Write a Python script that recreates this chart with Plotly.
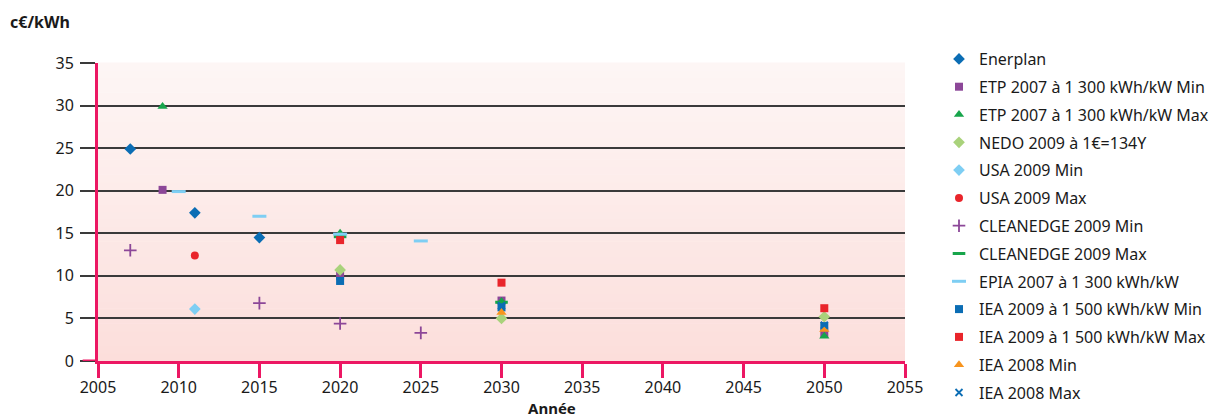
import plotly.graph_objects as go

# ---- data ----
enerplan_x = [2007, 2011, 2015]
enerplan_y = [24.9, 17.4, 14.5]
etp_min_x = [2009, 2020, 2030, 2050]
etp_min_y = [20.1, 10.0, 7.1, 3.2]
etp_max_x = [2009, 2020, 2030, 2050]
etp_max_y = [29.9, 15.0, 7.0, 2.9]
nedo_x = [2020, 2030, 2050]
nedo_y = [10.7, 5.0, 5.2]
usa_min_x = [2011]
usa_min_y = [6.1]
usa_max_x = [2011]
usa_max_y = [12.4]
clean_min_x = [2007, 2015, 2020, 2025]
clean_min_y = [13.0, 6.8, 4.4, 3.3]
clean_max_x = [2020, 2030]
clean_max_y = [14.6, 6.9]
epia_x = [2010, 2015, 2020, 2025]
epia_y = [19.9, 17.0, 14.9, 14.1]
iea09_min_x = [2020, 2030, 2050]
iea09_min_y = [9.4, 6.3, 4.1]
iea09_max_x = [2020, 2030, 2050]
iea09_max_y = [14.2, 9.2, 6.2]
iea08_min_x = [2030, 2050]
iea08_min_y = [5.7, 3.7]
iea08_max_x = [2030, 2050]
iea08_max_y = [6.5, 4.2]

series = [
    ("Enerplan", enerplan_x, enerplan_y, "diamond", "#0b6db4", 9),
    ("ETP 2007 à 1 300 kWh/kW Min", etp_min_x, etp_min_y, "square", "#8c4798", 8),
    ("ETP 2007 à 1 300 kWh/kW Max", etp_max_x, etp_max_y, "triangle-up", "#17a54b", 9),
    ("NEDO 2009 à 1€=134Y", nedo_x, nedo_y, "diamond", "#a9d27b", 9),
    ("USA 2009 Min", usa_min_x, usa_min_y, "diamond", "#7ecef3", 9),
    ("USA 2009 Max", usa_max_x, usa_max_y, "circle", "#e9252b", 8),
    ("CLEANEDGE 2009 Min", clean_min_x, clean_min_y, "cross-thin", "#8c4798", 9),
    ("CLEANEDGE 2009 Max", clean_max_x, clean_max_y, "line-ew", "#17a54b", 9),
    ("EPIA 2007 à 1 300 kWh/kW", epia_x, epia_y, "line-ew", "#7ecef3", 10),
    ("IEA 2009 à 1 500 kWh/kW Min", iea09_min_x, iea09_min_y, "square", "#0b6db4", 8),
    ("IEA 2009 à 1 500 kWh/kW Max", iea09_max_x, iea09_max_y, "square", "#e9252b", 8),
    ("IEA 2008 Min", iea08_min_x, iea08_min_y, "triangle-up", "#f7941e", 9),
    ("IEA 2008 Max", iea08_max_x, iea08_max_y, "x-thin", "#0b6db4", 7),
]

fig = go.Figure()
for i, (name, xs, ys, sym, col, size) in enumerate(series):
    if sym in ("cross-thin", "x-thin"):
        marker = dict(symbol=sym, size=size, line=dict(color=col, width=1.8))
    elif sym == "line-ew":
        marker = dict(symbol=sym, size=size, line=dict(color=col, width=3))
    else:
        marker = dict(symbol=sym, size=size, color=col, line=dict(width=0))
    fig.add_trace(go.Scatter(x=xs, y=ys, mode="markers", name=name, marker=marker,
                             legendgroup=f"g{i}"))

# gradient background (plot area) with thin strips
n = 40
top = (253, 246, 245)
bot = (252, 222, 219)
shapes = []
for k in range(n):
    t = (k + 0.5) / n
    c = tuple(round(bot[j] + (top[j] - bot[j]) * t) for j in range(3))
    shapes.append(dict(type="rect", xref="x domain", yref="y domain",
                       x0=0, x1=1, y0=k / n, y1=(k + 1) / n + 0.002,
                       fillcolor=f"rgb{c}", line=dict(width=0), layer="below"))
# pink extension of the baseline to the left (over the 0 tick)
shapes.append(dict(type="line", xref="x domain", yref="y", x0=-0.019, x1=0,
                   y0=0, y1=0, line=dict(color="#ec1763", width=3), layer="above"))

PINK = "#ec1763"
W, H = 1211, 416
fig.update_layout(
    width=W, height=H,
    margin=dict(l=98, r=306, t=63, b=55, autoexpand=False),
    paper_bgcolor="white",
    plot_bgcolor="rgba(0,0,0,0)",
    font=dict(family="Noto Sans", size=16, color="#1a1a1a"),
    shapes=shapes,
    showlegend=True,
    legend=dict(x=939 / W, xref="container", y=1 - 42 / H, yref="container",
                yanchor="top", xanchor="left", maxheight=410,
                tracegroupgap=4, font=dict(size=16, color="#1a1a1a"),
                bgcolor="rgba(0,0,0,0)"),
    xaxis=dict(range=[2005, 2055], dtick=5, tick0=2005, showgrid=False,
               zeroline=False, showline=True, linecolor=PINK, linewidth=3,
               ticks="outside", ticklen=14, tickwidth=3, tickcolor=PINK,
               ticklabelstandoff=-4),
    yaxis=dict(range=[0, 35], dtick=5, showgrid=True, gridcolor="#3a3a3a",
               gridwidth=1.5, zeroline=False, showline=True, linecolor=PINK,
               linewidth=3, ticks="outside", ticklen=15, tickwidth=1.5,
               tickcolor="#3a3a3a", ticklabelstandoff=3),
    annotations=[
        dict(text="<b>c€/kWh</b>", xref="paper", yref="paper",
             x=-0.111, y=1.137, xanchor="left", yanchor="middle",
             showarrow=False, font=dict(size=16)),
        dict(text="<b>Année</b>", xref="paper", yref="paper",
             x=(552 - 98) / 807, y=-(408 - 361) / 298, xanchor="center",
             yanchor="middle", showarrow=False, font=dict(size=15)),
    ],
)

fig.write_html("out.html", config={"displayModeBar": False},
               post_script="document.body.style.margin='0';document.body.style.overflow='hidden';")
